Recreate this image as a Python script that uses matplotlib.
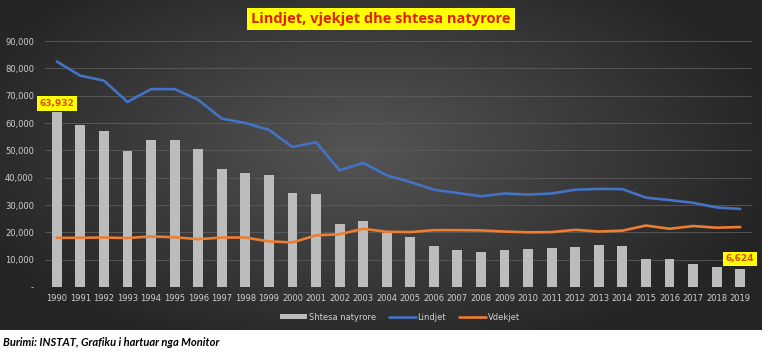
import numpy as np
import matplotlib
matplotlib.use("Agg")
import matplotlib.pyplot as plt
from matplotlib.ticker import FuncFormatter, MultipleLocator

years = [str(y) for y in range(1990, 2020)]
shtesa = [63932, 59400, 57200, 49600, 53600, 53900, 50600, 43300, 41700, 41100,
          34500, 34100, 23100, 24100, 19800, 18400, 15100, 13500, 12700, 13700,
          14000, 14400, 14600, 15300, 15100, 10100, 10100, 8500, 7300, 6624]
lindjet = [82500, 77300, 75500, 67700, 72400, 72400, 68500, 61600, 60000, 57500,
           51200, 53000, 42700, 45400, 40900, 38400, 35600, 34400, 33200, 34200,
           33800, 34200, 35600, 35900, 35800, 32700, 31800, 30800, 29100, 28561]
vdekjet = [18000, 18000, 18100, 17900, 18500, 18200, 17500, 18100, 18100, 16700,
           16300, 18900, 19300, 21300, 20200, 20100, 20800, 20800, 20700, 20300,
           20000, 20100, 20900, 20300, 20600, 22500, 21300, 22300, 21700, 21937]

W, H = 768, 354
fig = plt.figure(figsize=(W / 100, H / 100), dpi=100)
fig.patch.set_facecolor("white")

def fx(px):
    return px / W

def fy(py):
    return 1 - py / H

# dark gradient panel
panel_left, panel_right, panel_top, panel_bot = 0, 762, 0, 330
bg = fig.add_axes([fx(panel_left), fy(panel_bot), fx(panel_right - panel_left),
                   (panel_bot - panel_top) / H])
nx, ny = 400, 200
xx, yy = np.meshgrid(np.linspace(-1, 1, nx), np.linspace(-1, 1, ny))
r = np.sqrt(((xx + 0.05) / 1.1) ** 2 + ((yy + 0.1) / 1.3) ** 2)
r = np.clip(r, 0, 1)
c_in = np.array([0x55, 0x55, 0x55]) / 255
c_out = np.array([0x25, 0x25, 0x25]) / 255
img = c_in[None, None, :] * (1 - r[..., None]) + c_out[None, None, :] * r[..., None]
bg.imshow(img, aspect="auto", extent=[0, 1, 0, 1])
bg.set_axis_off()

# main axes
left_px, right_px, top_px, bot_px = 45, 752, 41, 287
ax = fig.add_axes([fx(left_px), fy(bot_px), fx(right_px - left_px), (bot_px - top_px) / H])
ax.set_facecolor("none")
x = np.arange(len(years))
ax.bar(x, shtesa, width=0.42, color="#bcbcbc", label="Shtesa natyrore", zorder=2)
ax.plot(x, lindjet, color="#4472C4", lw=1.9, label="Lindjet", zorder=3, solid_capstyle="round")
ax.plot(x, vdekjet, color="#ED7D31", lw=1.9, label="Vdekjet", zorder=3, solid_capstyle="round")

ax.set_xlim(-0.5, len(years) - 0.5)
ax.set_ylim(0, 90000)
ax.yaxis.set_major_locator(MultipleLocator(10000))
ax.yaxis.set_major_formatter(FuncFormatter(lambda v, p: "-" if v == 0 else f"{int(v):,}"))
ax.set_xticks(x)
ax.set_xticklabels(years)
ax.tick_params(axis="both", length=0, colors="#d0d0d0", labelsize=6)
ax.tick_params(axis="y", pad=8)
ax.tick_params(axis="x", pad=5)
ax.grid(axis="y", color="#5c5c5c", lw=0.6, zorder=0)
for s in ax.spines.values():
    s.set_visible(False)
ax.axhline(0, color="#6a6a6a", lw=0.8, zorder=1)

# data labels
ax.annotate(f"{shtesa[0]:,}", (x[0], shtesa[0]), xytext=(0, 3), textcoords="offset points",
            ha="center", va="bottom", fontsize=6.5, fontweight="bold", color="#e04a10",
            bbox=dict(boxstyle="square,pad=0.3", fc="#ffff00", ec="none"))
ax.annotate(f"{shtesa[-1]:,}", (x[-1], shtesa[-1]), xytext=(0, 4), textcoords="offset points",
            ha="center", va="bottom", fontsize=6.5, fontweight="bold", color="#e04a10",
            bbox=dict(boxstyle="square,pad=0.3", fc="#ffff00", ec="none"))

handles, labels = ax.get_legend_handles_labels()
order = [labels.index("Shtesa natyrore"), labels.index("Lindjet"), labels.index("Vdekjet")]
leg = fig.legend([handles[i] for i in order], [labels[i] for i in order],
                 loc="center", bbox_to_anchor=(fx(400), fy(317)), ncol=3, frameon=False,
                 fontsize=6, handlelength=3.2, handleheight=0.6, columnspacing=1.6,
                 handletextpad=0.2)
for t in leg.get_texts():
    t.set_color("#d0d0d0")

# title
fig.text(fx(381), fy(19), "Lindjet, vjekjet dhe shtesa natyrore", ha="center", va="center",
         fontsize=10.5, fontweight="bold", color="#e02000", family="Open Sans",
         bbox=dict(boxstyle="square,pad=0.3", fc="#ffff00", ec="none"))

# source
fig.text(fx(3), fy(343), "Burimi: INSTAT, Grafiku i hartuar nga Monitor", ha="left", va="center",
         fontsize=8, fontweight="bold", fontstyle="italic", color="black", family="Lato")

fig.savefig("out.png", dpi=100)
